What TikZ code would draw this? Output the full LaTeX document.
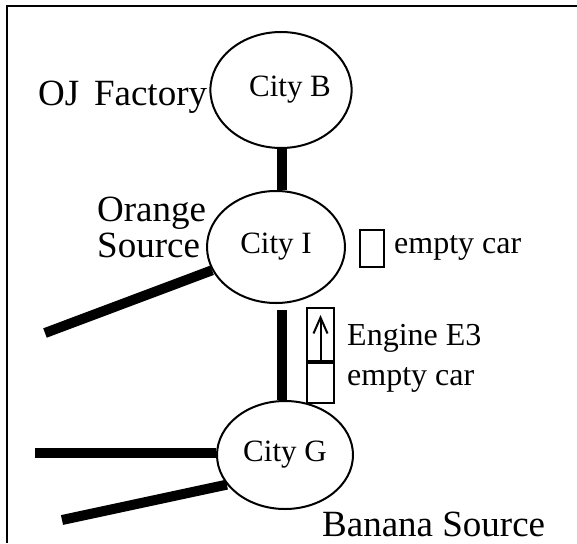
\documentclass[tikz,border=0pt]{standalone}
\usepackage{fontspec}
\setmainfont{Liberation Serif}
\usetikzlibrary{shapes.geometric,arrows.meta}
\begin{document}
\begin{tikzpicture}[x=1pt,y=-1pt,
  city/.style={ellipse,draw,line width=2pt,inner sep=0pt,font=\fontsize{31}{34}\selectfont},
  track/.style={line width=10pt},
  carbox/.style={draw,line width=2pt,inner sep=0pt},
  small/.style={font=\fontsize{32}{35}\selectfont,inner sep=0pt},
  big/.style={font=\fontsize{37}{40}\selectfont,inner sep=0pt}]
\useasboundingbox (0,0) rectangle (577,543);
\draw[line width=2pt] (577,6) -- (7,6) -- (7,543);
% cities
\node[city,minimum width=138pt,minimum height=116pt] (cityB) at (281,90) {\hspace{18pt}City B};
\node[city,minimum width=138pt,minimum height=112pt] (cityI) at (276,247) {City I};
\node[city,minimum width=136pt,minimum height=108pt] (cityG) at (285,455) {\raisebox{-4pt}{City G}};
% tracks
\coordinate (endI) at (45,333);
\coordinate (topIG) at (282,310);
\coordinate (endG1) at (35,453);
\coordinate (endG2) at (62,520);
\draw[track] (cityB.south -| topIG) -- (cityI.north -| topIG);
\draw[track] (cityI.200) -- (endI);
\draw[track] (topIG) -- (topIG |- cityG.north);
\draw[track] (cityG.west |- endG1) -- (endG1);
\draw[track] (cityG.207) -- (endG2);
% cars
\node[carbox,minimum width=24pt,minimum height=37pt] (carI) at (372,248) {};
\node[carbox,minimum width=27pt,minimum height=53pt] (engine) at (320.5,334.5) {};
\node[carbox,minimum width=27pt,minimum height=40pt,anchor=north] (carE) at (engine.south) {};
\coordinate (arrowtip) at (320.5,315);
\draw[line width=2pt,-{Straight Barb[length=16pt,width=14pt,line width=2pt]}] (engine.south) -- (arrowtip);
% labels
\node[big,anchor=west] (oj) at (38,97) {OJ\hspace{0.4em}Factory};
\node[big,anchor=west,align=left] (orange) at (97,227) {Orange\\[-4pt]Source};
\node[small,anchor=west] (emptyI) at (394,248) {empty car};
\node[small,anchor=west] (eng) at (347,338) {Engine E3};
\node[small,anchor=west] (emptyE) at (347,380) {empty car};
\node[big,anchor=west] (banana) at (322,524) {Banana Source};
\end{tikzpicture}
\end{document}
